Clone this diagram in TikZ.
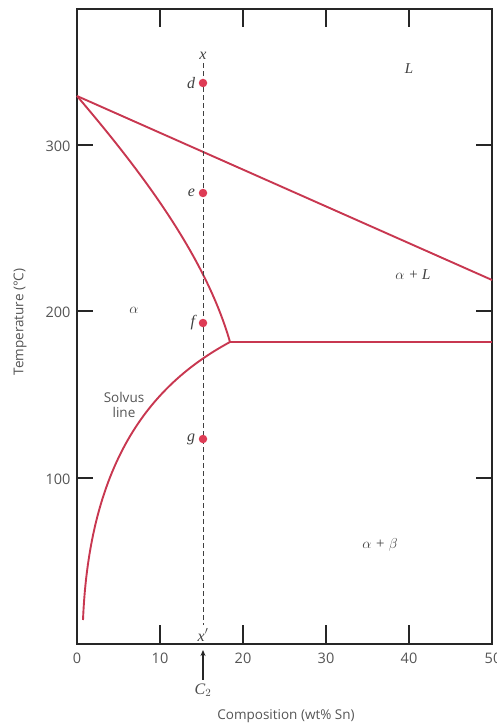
\documentclass[tikz,border=0pt]{standalone}
\usepackage{fontspec}
\setmainfont{Liberation Serif}
\newfontfamily\axfont{Open Sans}
\usetikzlibrary{arrows.meta}
\definecolor{phase}{RGB}{200,55,80}
\definecolor{dotc}{RGB}{222,60,85}
\definecolor{axgray}{RGB}{85,85,85}
\tikzset{
  phaseline/.style={phase,line width=1.9pt},
  frame/.style={black!85,line width=1.4pt},
  tick/.style={black!85,line width=1.4pt},
  ticklab/.style={font=\axfont\fontsize{14.5}{14.5}\selectfont,text=axgray},
  axtitle/.style={font=\axfont\fontsize{13.5}{14}\selectfont,text=axgray},
  region/.style={font=\fontsize{15}{15}\selectfont\itshape,text=black!75},
  ptlab/.style={font=\fontsize{16}{16}\selectfont\itshape,text=black!75},
  pt/.style={circle,fill=dotc,inner sep=0pt,minimum size=8.5pt},
}
\begin{document}
\begin{tikzpicture}[x=1pt,y=-1pt]
\useasboundingbox (0,0) rectangle (497,727);
\clip (0,0) rectangle (497,727);
% frame
\draw[frame] (77,9) rectangle (492,644);
% ticks
\foreach \xx in {160,243,326,409}{
  \draw[tick] (\xx,9) -- (\xx,27);
  \draw[tick] (\xx,644) -- (\xx,625);
}
\foreach \yy in {145,311,478}{
  \draw[tick] (77,\yy) -- (93,\yy);
  \draw[tick] (492,\yy) -- (476,\yy);
}
% tick labels
\node[ticklab] (t0) at (77,658) {0};
\node[ticklab] (t10) at (160,658) {10};
\node[ticklab] (t20) at (243,658) {20};
\node[ticklab] (t30) at (326,658) {30};
\node[ticklab] (t40) at (409,658) {40};
\node[ticklab] (t50) at (493,658) {50};
\node[ticklab,anchor=east] (t300) at (74,146) {300};
\node[ticklab,anchor=east] (t200) at (74,312) {200};
\node[ticklab,anchor=east] (t100) at (74,479) {100};
% axis titles
\node[axtitle] (xtitle) at (286,716) {Composition (wt\% Sn)};
\node[axtitle,rotate=90] (ytitle) at (20,322) {Temperature (°C)};
% phase boundaries
\coordinate (mp) at (77,96);
\coordinate (eut) at (230,342);
\coordinate (liqend) at (492,280);
\coordinate (eutend) at (492,342);
\coordinate (solend) at (83,620);
\draw[phaseline] (mp) -- (liqend);
\draw[phaseline] (mp) .. controls (140,170) and (205,255) .. (eut);
\draw[phaseline] (eut) -- (eutend);
\draw[phaseline] (eut) .. controls (160,380) and (90,450) .. (solend);
% region labels
\node[region] (L) at (409,69) {L};
\node[region] (aL) at (413,275) {$\alpha$ + L};
\node[region] (a) at (134,310) {$\alpha$};
\node[region] (ab) at (380,545) {$\alpha$ + $\beta$};
\node[font=\axfont\fontsize{13.5}{15}\selectfont,text=axgray,align=center] (solv) at (124,405) {Solvus\\line};
% composition line
\node[ptlab] (xtop) at (203,56) {x};
\node[ptlab] (xbot) at (203,635) {x$'$};
\draw[black!75,dashed,line width=0.9pt,dash pattern=on 5pt off 3pt] (xtop.south) -- (xbot.north);
\node[pt] (d) at (203,83) {};
\node[pt] (e) at (203,193) {};
\node[pt] (f) at (203,323) {};
\node[pt] (g) at (203,439) {};
\node[ptlab,anchor=east] at (d.west) {d};
\node[ptlab,anchor=east] at (e.west) {e};
\node[ptlab,anchor=east] at (f.west) {f};
\node[ptlab,anchor=east] at (g.west) {g};
% C2 arrow
\node[ptlab,text=black!70] (c2) at (203,690) {C$_2$};
\coordinate (c2tip) at (203,650);
\draw[black!85,line width=1.2pt,-{Stealth[length=6pt,width=5pt]}] (c2.north) -- (c2tip);
\end{tikzpicture}
\end{document}
